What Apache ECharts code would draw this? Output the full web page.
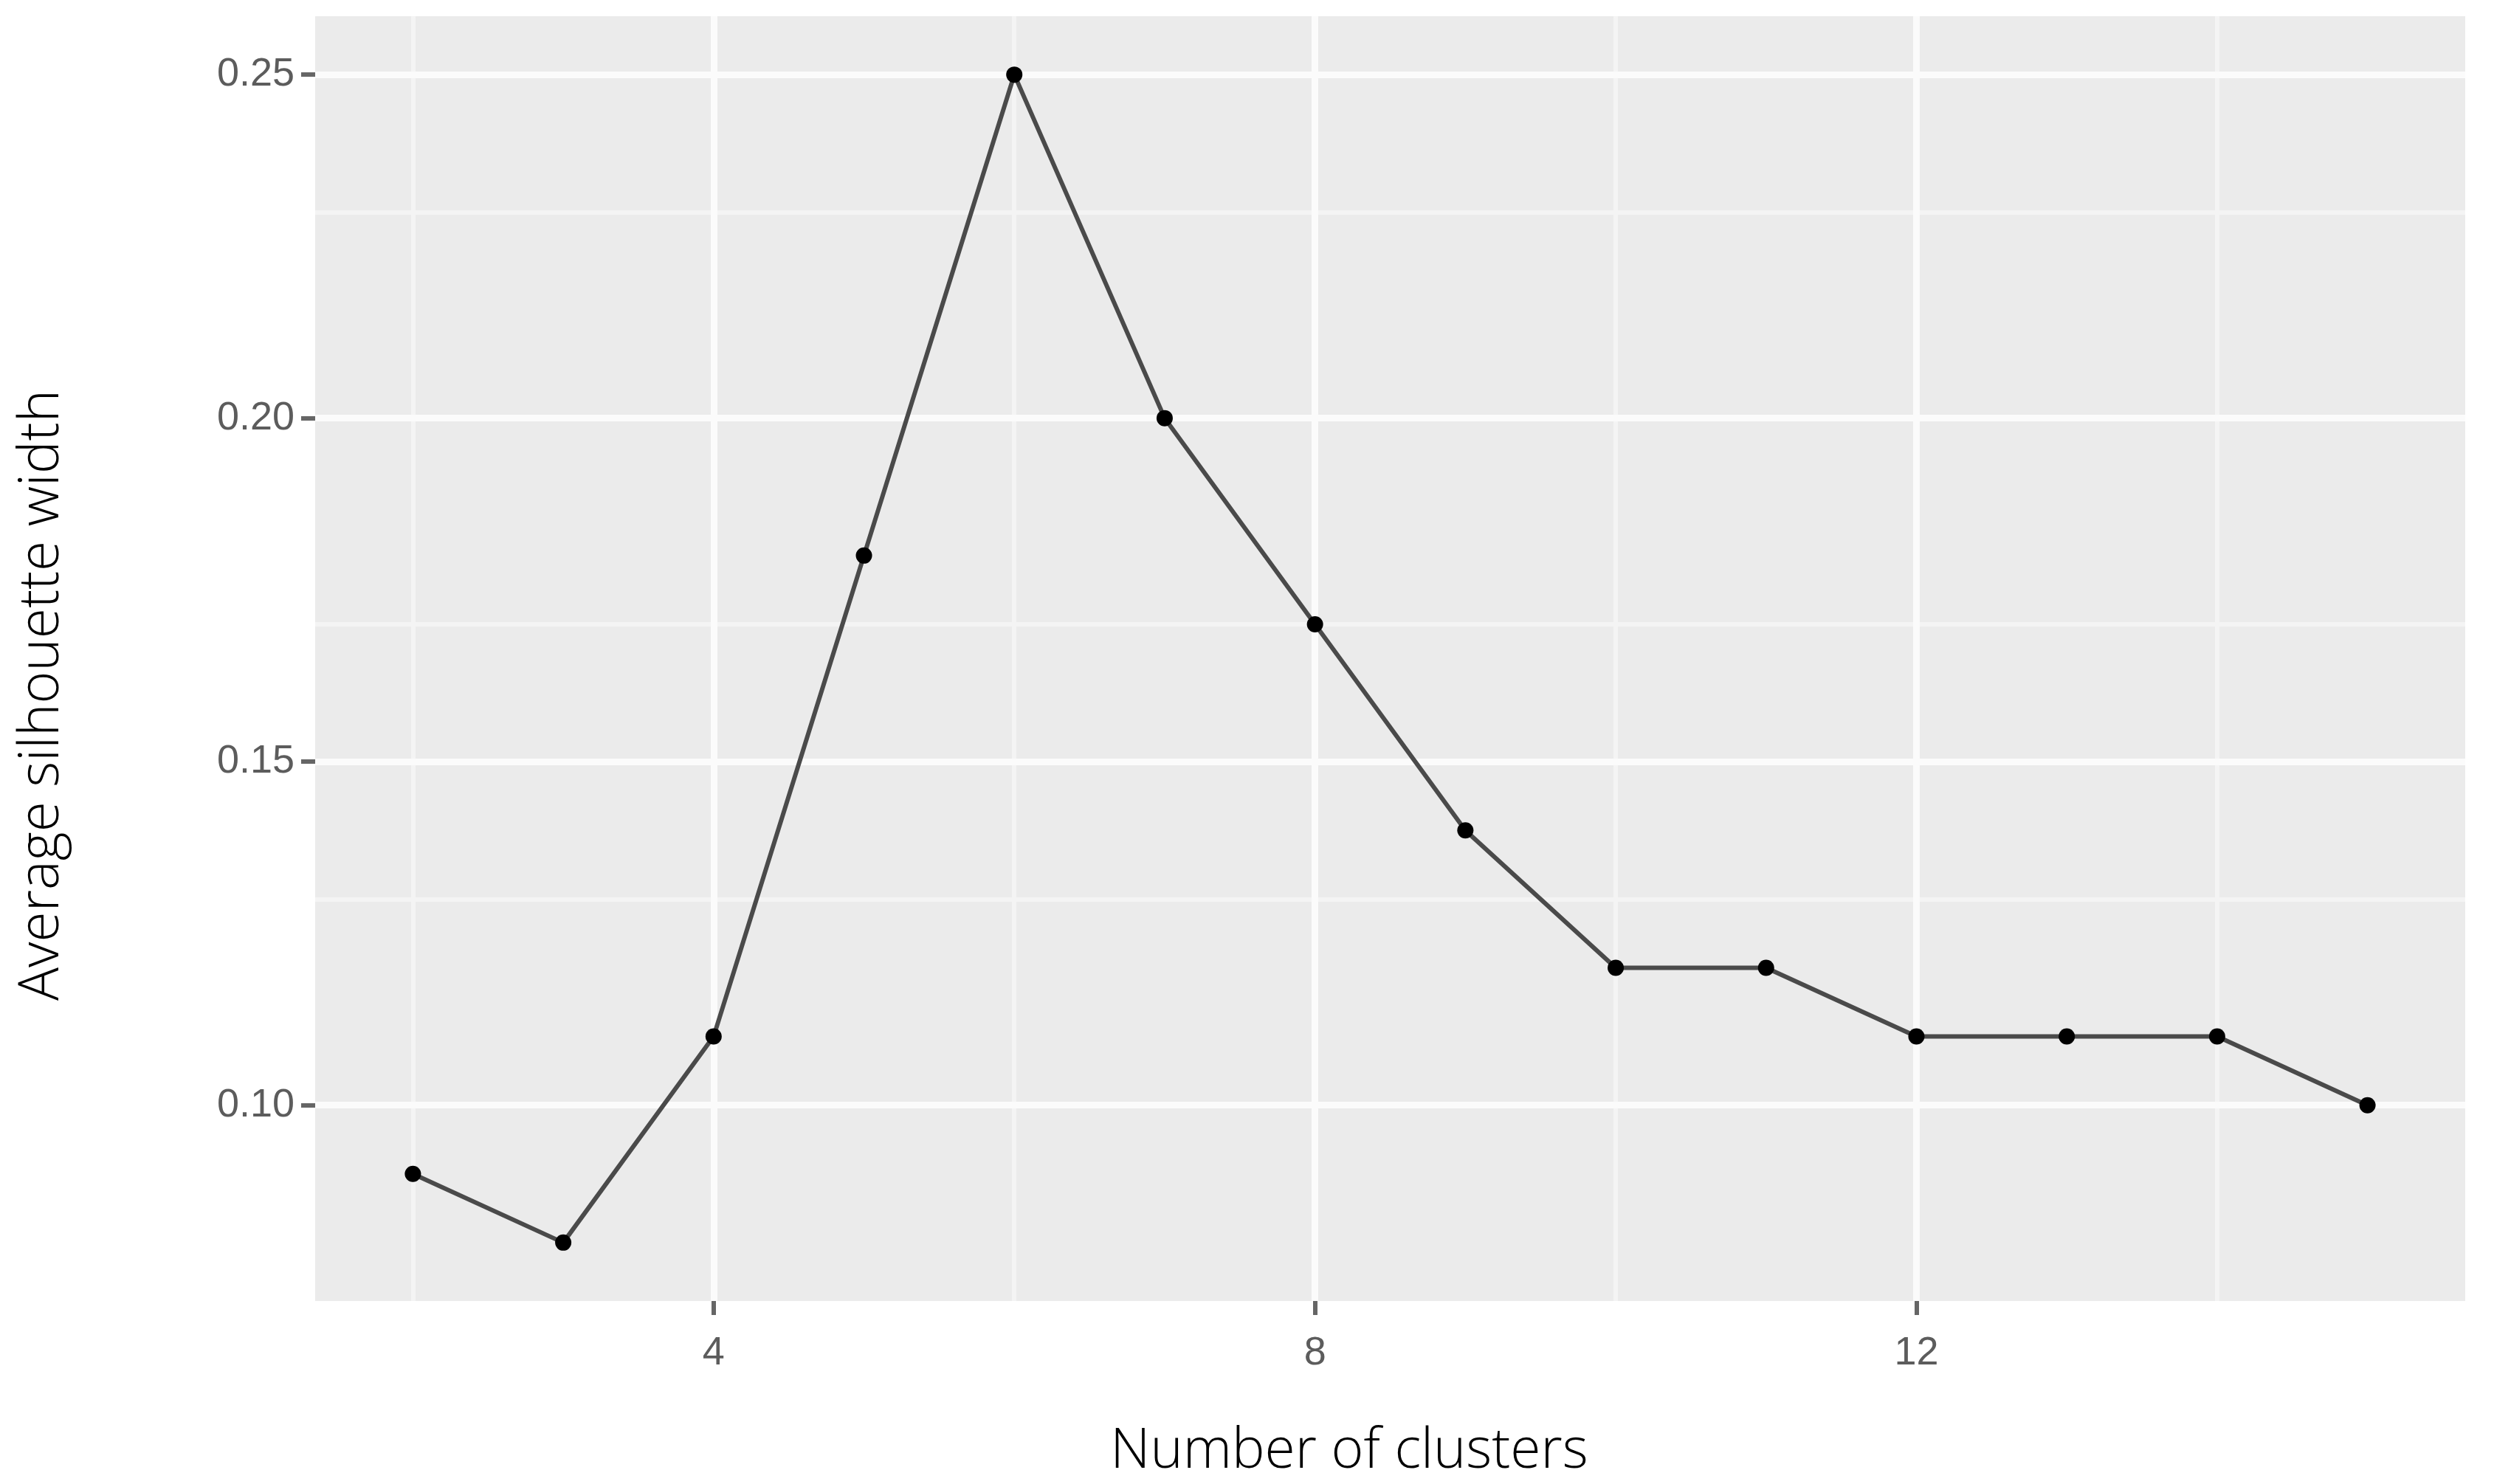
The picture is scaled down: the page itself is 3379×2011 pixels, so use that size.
<!DOCTYPE html>
<html>
<head>
<meta charset="utf-8">
<script src="https://cdn.jsdelivr.net/npm/echarts@6/dist/echarts.min.js"></script>
<style>
  html, body { margin: 0; padding: 0; background: #fff; }
  #chart { width: 3379px; height: 2011px; }
</style>
</head>
<body>
<div id="chart"></div>
<script>
  // number of clusters vs. average silhouette width
  var clusters = [2, 3, 4, 5, 6, 7, 8, 9, 10, 11, 12, 13, 14, 15];
  var silhouette = [0.09, 0.08, 0.11, 0.18, 0.25, 0.20, 0.17, 0.14, 0.12, 0.12, 0.11, 0.11, 0.11, 0.10];

  var xTicks = [4, 8, 12];
  var xMinor = [2, 6, 10, 14];
  var yTicks = [0.10, 0.15, 0.20, 0.25];
  var yMinor = [0.075, 0.125, 0.175, 0.225];

  var xTitle = 'Number of clusters';
  var yTitle = 'Average silhouette width';

  var points = clusters.map(function (c, i) { return [c, silhouette[i]]; });

  function gridLines(key, vals, width, color) {
    return vals.map(function (v) {
      var o = { lineStyle: { width: width, color: color, type: 'solid' } };
      o[key] = v;
      return o;
    });
  }

  var chart = echarts.init(document.getElementById('chart'));
  chart.setOption({
    backgroundColor: '#ffffff',
    animation: false,
    grid: {
      left: 427, right: 39, top: 22, bottom: 248,
      show: true, backgroundColor: '#ebebeb', borderWidth: 0
    },
    xAxis: {
      type: 'value',
      min: 1.35, max: 15.65,
      axisLine: { show: false },
      splitLine: { show: false },
      axisTick: { show: true, customValues: xTicks, length: 19, lineStyle: { color: '#666', width: 6 } },
      axisLabel: {
        customValues: xTicks, margin: 44,
        fontFamily: 'Liberation Sans', fontSize: 54, color: '#5c5c5c'
      }
    },
    yAxis: {
      type: 'value',
      min: 0.0715, max: 0.2585,
      axisLine: { show: false },
      splitLine: { show: false },
      axisTick: { show: true, customValues: yTicks, length: 19, lineStyle: { color: '#666', width: 6 } },
      axisLabel: {
        customValues: yTicks, margin: 28,
        fontFamily: 'Liberation Sans', fontSize: 54, color: '#5c5c5c',
        formatter: function (v) { return v.toFixed(2); }
      }
    },
    graphic: [
      {
        type: 'text', x: 1828, y: 1968,
        style: {
          text: xTitle, align: 'center', verticalAlign: 'middle',
          fontFamily: 'Open Sans', fontWeight: 300, fontSize: 75, fill: '#000'
        }
      },
      {
        type: 'text', x: 58, y: 942, rotation: Math.PI / 2,
        style: {
          text: yTitle, align: 'center', verticalAlign: 'middle',
          fontFamily: 'Open Sans', fontWeight: 300, fontSize: 75, fill: '#000'
        }
      }
    ],
    series: [
      {
        // panel grid lines, kept under the data line
        type: 'line', data: [], z: 1, silent: true,
        markLine: {
          z: 1, silent: true, symbol: 'none', animation: false,
          label: { show: false },
          emphasis: { disabled: true },
          data: []
            .concat(gridLines('yAxis', yMinor, 6, '#f4f4f4'))
            .concat(gridLines('xAxis', xMinor, 6, '#f4f4f4'))
            .concat(gridLines('yAxis', yTicks, 9, '#fbfbfb'))
            .concat(gridLines('xAxis', xTicks, 9, '#fbfbfb'))
        }
      },
      {
        type: 'line', z: 10,
        data: points,
        symbol: 'circle', symbolSize: 22,
        itemStyle: { color: '#000' },
        lineStyle: { color: '#4a4a4a', width: 6 }
      }
    ]
  });
</script>
</body>
</html>
